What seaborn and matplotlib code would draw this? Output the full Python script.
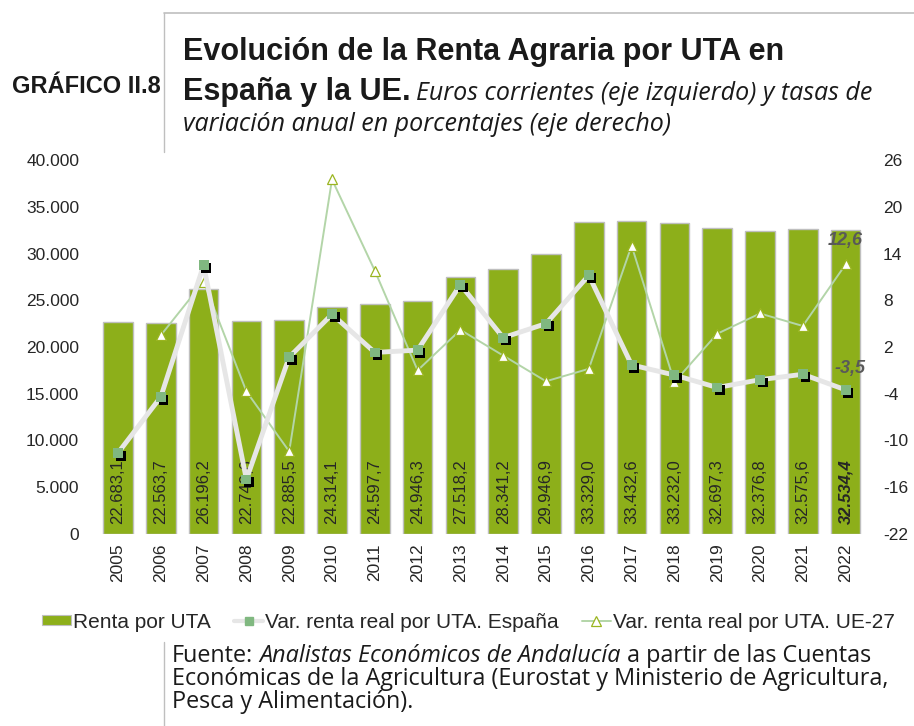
import numpy as np
import pandas as pd
import matplotlib
matplotlib.use("Agg")
import matplotlib.pyplot as plt
import matplotlib.patheffects as pe
from matplotlib.lines import Line2D
from matplotlib.patches import Patch
from matplotlib.ticker import FuncFormatter
import seaborn as sns

# data
years = ["2005", "2006", "2007", "2008", "2009", "2010", "2011", "2012", "2013",
         "2014", "2015", "2016", "2017", "2018", "2019", "2020", "2021", "2022"]
renta_uta = [22683.1, 22563.7, 26196.2, 22749.6, 22885.5, 24314.1, 24597.7, 24946.3, 27518.2,
             28341.2, 29946.9, 33329.0, 33432.6, 33232.0, 32697.3, 32376.8, 32575.6, 32534.4]
var_espana = [-11.6, -4.4, 12.5, -15.0, 0.7, 6.2, 1.3, 1.6, 10.0,
              3.2, 5.0, 11.2, -0.3, -1.6, -3.2, -2.2, -1.5, -3.5]
var_ue27 = [np.nan, 3.5, 10.4, -3.7, -11.4, 23.5, 11.8, -1.0, 4.2,
            0.9, -2.4, -0.8, 15.0, -2.5, 3.7, 6.3, 4.7, 12.6]
left_ticks = [0, 5000, 10000, 15000, 20000, 25000, 30000, 35000, 40000]
right_ticks = [-22, -16, -10, -4, 2, 8, 14, 20, 26]

labels = ["Renta por UTA", "Var. renta real por UTA. España", "Var. renta real por UTA. UE-27"]

# colours
olive = "#8DAF1A"
bar_edge = "#BFBFBF"
es_line = "#E6E6E6"
es_marker = "#80B880"
ue_line = "#B3D5A8"
ue_edge = "#9AB520"
txt = "#262626"

sns.set_style("white")
plt.rcParams["font.family"] = ["Liberation Sans", "DejaVu Sans"]
plt.rcParams["axes.unicode_minus"] = False
narrow = ["Open Sans", "Liberation Sans", "DejaVu Sans"]


def es_num(v, dec=1):
    s = f"{v:,.{dec}f}"
    return s.replace(",", "X").replace(".", ",").replace("X", ".")


W, H = 914, 726
fig = plt.figure(figsize=(W / 100, H / 100), dpi=100)
ax = fig.add_axes([96.6 / W, 1 - 534 / H, (867 - 96.6) / W, 374 / H])

df = pd.DataFrame({"year": years, "renta": renta_uta, "es": var_espana, "ue": var_ue27})
df["pos"] = np.arange(len(df))

# bars (left axis)
sns.barplot(data=df, x="year", y="renta", ax=ax, color=olive, saturation=1,
            width=0.69, edgecolor=bar_edge, linewidth=1)

last = len(renta_uta) - 1
for i, v in enumerate(renta_uta):
    ax.annotate(es_num(v), xy=(i, 0), xytext=(0, 7.5), textcoords="offset points",
                rotation=90, ha="center", va="bottom", fontsize=12, color=txt,
                fontweight="bold" if i == last else "normal",
                fontstyle="italic" if i == last else "normal")

# lines (right axis)
ax2 = ax.twinx()
sns.lineplot(data=df, x="pos", y="ue", ax=ax2, color=ue_line, lw=1.4, errorbar=None,
             marker="^", markersize=7.5, markerfacecolor="white", markeredgecolor=ue_edge,
             markeredgewidth=0.9, legend=False)
sns.lineplot(data=df, x="pos", y="es", ax=ax2, color=es_line, lw=3.5, errorbar=None, legend=False)
sns.scatterplot(data=df, x="pos", y="es", ax=ax2, marker="s", s=50, color=es_marker,
                edgecolor="none", legend=False, zorder=5,
                path_effects=[pe.SimplePatchShadow(offset=(2, -2), shadow_rgbFace="black", alpha=1),
                              pe.Normal()])

ax2.annotate(es_num(var_ue27[-1]), xy=(last, var_ue27[-1]), xytext=(0, 17),
             textcoords="offset points", ha="center", va="center", fontsize=13,
             fontweight="bold", fontstyle="italic", color="#595959")
ax2.annotate(es_num(var_espana[-1]), xy=(last, var_espana[-1]), xytext=(3.5, 15.5),
             textcoords="offset points", ha="center", va="center", fontsize=13,
             fontweight="bold", fontstyle="italic", color="#595959")

# axes
ax.set_ylim(0, 40000)
ax.set_yticks(left_ticks)
ax.yaxis.set_major_formatter(FuncFormatter(lambda v, p: es_num(v, 0)))
ax2.set_ylim(-22, 26)
ax2.set_yticks(right_ticks)
ax.set_xlim(-0.5, len(years) - 0.5)
for a in (ax, ax2):
    a.set_xlabel("")
    a.set_ylabel("")
    for s in a.spines.values():
        s.set_visible(False)
ax.tick_params(axis="y", length=0, pad=12.5, labelsize=12.5, labelcolor=txt)
ax2.tick_params(axis="y", length=0, pad=11.5, labelsize=12.5, labelcolor=txt)
ax.tick_params(axis="x", length=0, pad=6.5, labelsize=12.5, labelcolor=txt, rotation=90)

# legend
handles = [
    Patch(facecolor=olive, edgecolor=bar_edge, linewidth=0.8),
    Line2D([], [], color=es_line, lw=3, marker="s", markersize=5.5,
           markerfacecolor=es_marker, markeredgecolor=es_marker),
    Line2D([], [], color=ue_line, lw=1.4, marker="^", markersize=7,
           markerfacecolor="white", markeredgecolor=ue_edge, markeredgewidth=0.9),
]
fig.legend(handles, labels, loc="center", bbox_to_anchor=(468.5 / W, 1 - 622 / H), ncol=3,
           frameon=False, fontsize=15, handlelength=1.4, handleheight=0.4,
           handletextpad=0.1, columnspacing=1.1, labelcolor=txt)

# header
sep = "#BFBFBF"
fig.add_artist(Line2D([164 / W, 1], [1 - 13 / H, 1 - 13 / H], color=sep, lw=1.2))
fig.add_artist(Line2D([164 / W, 164 / W], [1 - 13 / H, 1 - 152 / H], color=sep, lw=1))
fig.add_artist(Line2D([164 / W, 164 / W], [1 - 642 / H, 0], color=sep, lw=1))

title_c = "#1A1A1A"
fig.text(12 / W, 1 - 93 / H, "GRÁFICO II.8", fontsize=17, fontweight="bold",
         va="baseline", color=title_c)
fig.text(183 / W, 1 - 60 / H, "Evolución de la Renta Agraria por UTA en", fontsize=22,
         fontweight="bold", va="baseline", color=title_c)
t2 = fig.text(183 / W, 1 - 100 / H, "España y la UE.", fontsize=22, fontweight="bold",
              va="baseline", color=title_c)
fig.text(183 / W, 1 - 131 / H, "variación anual en porcentajes (eje derecho)", fontsize=18,
         style="italic", family=narrow, va="baseline", color=title_c)

renderer = fig.canvas.get_renderer()
x_end = t2.get_window_extent(renderer).x1
fig.text((x_end + 5) / W, 1 - 100 / H, "Euros corrientes (eje izquierdo) y tasas de",
         fontsize=18, style="italic", family=narrow, va="baseline", color=title_c)

# source note
fs = 16.8
f1 = fig.text(172 / W, 1 - 662 / H, "Fuente:", fontsize=fs, family=narrow, va="baseline", color=title_c)
x1 = f1.get_window_extent(renderer).x1
f2 = fig.text((x1 + 6) / W, 1 - 662 / H, "Analistas Económicos de Andalucía", fontsize=fs,
              family=narrow, style="italic", va="baseline", color=title_c)
x2 = f2.get_window_extent(renderer).x1
fig.text((x2 + 6) / W, 1 - 662 / H, "a partir de las Cuentas", fontsize=fs, family=narrow,
         va="baseline", color=title_c)
fig.text(172 / W, 1 - 685 / H, "Económicas de la Agricultura (Eurostat y Ministerio de Agricultura,",
         fontsize=fs, family=narrow, va="baseline", color=title_c)
fig.text(172 / W, 1 - 708 / H, "Pesca y Alimentación).", fontsize=fs, family=narrow,
         va="baseline", color=title_c)

fig.savefig("out.png", dpi=100)
